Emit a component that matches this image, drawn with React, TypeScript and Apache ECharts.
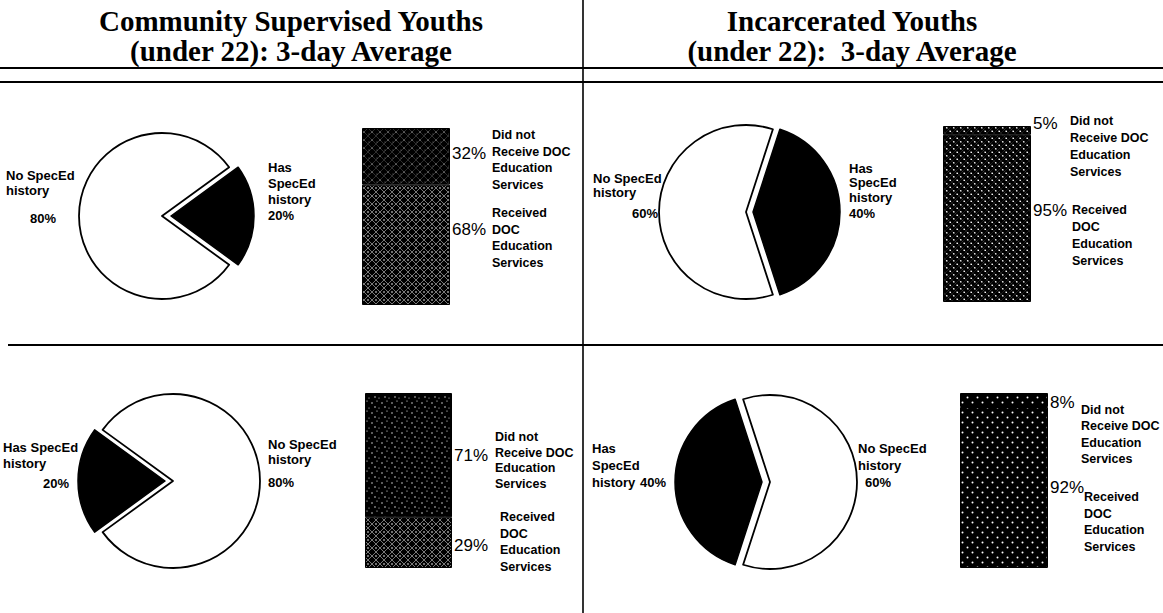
import React, { useEffect, useRef } from 'react';
import * as echarts from 'echarts';

const W = 1163;
const H = 613;

// ---- data ----
const leftTitle = ['Community Supervised Youths', '(under 22): 3-day Average'];
const rightTitle = ['Incarcerated Youths', '(under 22):  3-day Average'];

const pieCategories = ['Has SpecEd history', 'No SpecEd history'];
// [has SpecEd, no SpecEd] for panels TL, TR, BL, BR
const pieHas = [20, 40, 20, 40];
const pieNo = [80, 60, 80, 60];

const barCategories = ['Received DOC Education Services', 'Did not Receive DOC Education Services'];
const barReceived = [68, 95, 29, 92];
const barDidNot = [32, 5, 71, 8];

const didNotText = 'Did not\nReceive DOC\nEducation\nServices';
const receivedText = 'Received\nDOC\nEducation\nServices';

// ---- layout ----
const layout = [
  {
    pie: { center: [162, 216], r: 83, start: 36, off: 9 },
    noLbl: { text: 'No SpecEd\nhistory', x: 6, y: 175, lh: 15 }, noPct: { x: 30, y: 218 },
    hasLbl: { text: 'Has\nSpecEd\nhistory', x: 268, y: 167, lh: 16 }, hasPct: { x: 268, y: 215 },
    bar: { x: 362, y: 128, w: 88, h: 177 }, recOff: -15, didOff: -3,
    didTxt: { x: 492, y: 135, lh: 16.7 }, recTxt: { x: 492, y: 213, lh: 16.5 },
  },
  {
    pie: { center: [746, 212], r: 87, start: 72, off: 7 },
    noLbl: { text: 'No SpecEd\nhistory', x: 593, y: 178, lh: 14.5 }, noPct: { x: 632, y: 213 },
    hasLbl: { text: 'Has\nSpecEd\nhistory', x: 849, y: 168, lh: 14.5 }, hasPct: { x: 849, y: 213 },
    bar: { x: 943, y: 126, w: 88, h: 176 }, recOff: -8, didOff: -7,
    didTxt: { x: 1070, y: 121, lh: 17 }, recTxt: { x: 1072, y: 210, lh: 17 },
  },
  {
    pie: { center: [173, 481], r: 87, start: 216, off: 8 },
    hasLbl: { text: 'Has SpecEd\nhistory', x: 3, y: 447, lh: 16 }, hasPct: { x: 43, y: 483 },
    noLbl: { text: 'No SpecEd\nhistory', x: 268, y: 444, lh: 15 }, noPct: { x: 268, y: 482 },
    bar: { x: 365, y: 393, w: 87, h: 175 }, recOff: 3, didOff: 0,
    didTxt: { x: 495, y: 437, lh: 15.5 }, recTxt: { x: 500, y: 517, lh: 16.7 },
  },
  {
    pie: { center: [770, 482], r: 87, start: 252, off: 8 },
    hasLbl: { text: 'Has\nSpecEd\nhistory', x: 592, y: 448, lh: 17 }, hasPct: { x: 640, y: 482 },
    noLbl: { text: 'No SpecEd\nhistory', x: 858, y: 448, lh: 17 }, noPct: { x: 865, y: 482 },
    bar: { x: 960, y: 393, w: 88, h: 175 }, recOff: 0, didOff: 2,
    didTxt: { x: 1081, y: 410, lh: 16.3 }, recTxt: { x: 1084, y: 497, lh: 16.5 },
  },
];

const SANS = '"Liberation Sans", Arial, Helvetica, sans-serif';
const SERIF = '"Liberation Serif", "Times New Roman", serif';

function makePattern(size: number, draw: (g: CanvasRenderingContext2D, s: number) => void) {
  const c = document.createElement('canvas');
  c.width = size;
  c.height = size;
  const g = c.getContext('2d')!;
  g.fillStyle = '#000';
  g.fillRect(0, 0, size, size);
  g.fillStyle = '#fff';
  g.strokeStyle = '#fff';
  draw(g, size);
  return { image: c.toDataURL(), repeat: 'repeat', imageWidth: size, imageHeight: size } as any;
}

function diag(g: CanvasRenderingContext2D, s: number, lw: number, alpha: number) {
  g.save();
  g.globalAlpha = alpha;
  g.lineWidth = lw;
  for (let k = -1; k <= 1; k++) {
    g.beginPath();
    g.moveTo(-2, -2 + k * s);
    g.lineTo(s + 2, s + 2 + k * s);
    g.stroke();
    g.beginPath();
    g.moveTo(-2, s + 2 + k * s);
    g.lineTo(s + 2, -2 + k * s);
    g.stroke();
  }
  g.restore();
}

function dot(g: CanvasRenderingContext2D, x: number, y: number, r: number, a = 1) {
  g.save();
  g.globalAlpha = a;
  g.beginPath();
  g.arc(x, y, r, 0, Math.PI * 2);
  g.fill();
  g.restore();
}

function buildOption() {
  const crossHatch = makePattern(8, (g, s) => { diag(g, s, 0.8, 0.6); dot(g, 0, 4, 0.8); dot(g, 8, 4, 0.8); });
  const darkHatch = makePattern(8, (g, s) => { diag(g, s, 0.6, 0.3); dot(g, 4, 4, 0.6, 0.8); dot(g, 1, 6, 0.5, 0.6); });
  const diamondDots = makePattern(7, (g, s) => { diag(g, s, 0.5, 0.22); dot(g, 1.75, 1.75, 0.85); dot(g, 5.25, 5.25, 0.85); });
  const speckle = makePattern(10, (g) => { dot(g, 2, 3, 0.7); dot(g, 7, 1, 0.6); dot(g, 5, 7, 0.7); dot(g, 9, 8, 0.5); });
  const dotGrid = makePattern(10, (g) => { dot(g, 2.5, 2.5, 1.0); dot(g, 7.5, 7.5, 1.0); });

  const recFill = [crossHatch, diamondDots, crossHatch, dotGrid];
  const didFill = [darkHatch, diamondDots, speckle, dotGrid];

  const series: any[] = [];
  const grid: any[] = [];
  const xAxis: any[] = [];
  const yAxis: any[] = [];
  const graphic: any[] = [];

  const txt = (text: string, x: number, yCenter: number, lh: number, size = 13, weight = 'bold') => ({
    type: 'text',
    silent: true,
    style: {
      text, x, y: yCenter - lh / 2,
      fontFamily: SANS, fontSize: size, fontWeight: weight,
      lineHeight: lh, fill: '#000', verticalAlign: 'top', align: 'left',
    },
  });

  layout.forEach((p, i) => {
    // pie
    series.push({
      type: 'pie',
      center: p.pie.center,
      radius: p.pie.r,
      startAngle: p.pie.start,
      clockwise: true,
      selectedMode: 'multiple',
      selectedOffset: p.pie.off,
      silent: true,
      avoidLabelOverlap: false,
      label: { show: false },
      labelLine: { show: false },
      emphasis: { disabled: true },
      data: [
        {
          name: pieCategories[0], value: pieHas[i], selected: true,
          itemStyle: { color: '#000', borderColor: '#000', borderWidth: 1.5 },
          select: { itemStyle: { color: '#000', borderColor: '#000', borderWidth: 1.5 } },
        },
        {
          name: pieCategories[1], value: pieNo[i],
          itemStyle: { color: '#fff', borderColor: '#000', borderWidth: 1.8 },
        },
      ],
    });

    // bar
    grid.push({ left: p.bar.x, top: p.bar.y, width: p.bar.w, height: p.bar.h, containLabel: false });
    xAxis.push({ type: 'category', gridIndex: i, data: ['bar'], show: false });
    yAxis.push({ type: 'value', gridIndex: i, min: 0, max: 100, show: false });
    const lbl = (off: number) => ({
      show: true, position: 'right', distance: 2, formatter: '{c}%', offset: [0, off],
      fontFamily: SANS, fontSize: 17, color: '#000',
    });
    series.push({
      type: 'bar', name: barCategories[0], xAxisIndex: i, yAxisIndex: i, stack: 's' + i,
      barWidth: '100%', silent: true,
      data: [{ value: barReceived[i], itemStyle: { color: recFill[i], borderColor: '#000', borderWidth: 1 } }],
      label: lbl(p.recOff),
    });
    series.push({
      type: 'bar', name: barCategories[1], xAxisIndex: i, yAxisIndex: i, stack: 's' + i,
      barWidth: '100%', silent: true,
      data: [{ value: barDidNot[i], itemStyle: { color: didFill[i], borderColor: '#000', borderWidth: 1 } }],
      label: lbl(p.didOff),
    });

    // texts
    graphic.push(txt(p.noLbl.text, p.noLbl.x, p.noLbl.y, p.noLbl.lh));
    graphic.push(txt(`${pieNo[i]}%`, p.noPct.x, p.noPct.y, 15));
    graphic.push(txt(p.hasLbl.text, p.hasLbl.x, p.hasLbl.y, p.hasLbl.lh));
    graphic.push(txt(`${pieHas[i]}%`, p.hasPct.x, p.hasPct.y, 15));
    graphic.push(txt(didNotText, p.didTxt.x, p.didTxt.y, p.didTxt.lh, 12.5));
    graphic.push(txt(receivedText, p.recTxt.x, p.recTxt.y, p.recTxt.lh, 12.5));
  });

  // titles
  const title = (lines: string[], cx: number) => ({
    type: 'text', silent: true,
    style: {
      text: lines.join('\n'), x: cx, y: 6, align: 'center', verticalAlign: 'top',
      fontFamily: SERIF, fontSize: 29, fontWeight: 'bold', lineHeight: 30, fill: '#000',
    },
  });
  graphic.push(title(leftTitle, 291));
  graphic.push(title(rightTitle, 852));

  // rules
  const line = (x1: number, y1: number, x2: number, y2: number, lw: number) => ({
    type: 'line', silent: true,
    shape: { x1, y1, x2, y2 },
    style: { stroke: '#000', lineWidth: lw },
  });
  graphic.push(line(0, 68, W, 68, 2));
  graphic.push(line(0, 82, W, 82, 2));
  graphic.push(line(8, 345, W, 345, 2));
  graphic.push(line(583, 0, 583, H, 1.6));

  return {
    animation: false,
    backgroundColor: '#fff',
    grid, xAxis, yAxis, series, graphic,
  };
}

export default function App() {
  const ref = useRef<HTMLDivElement>(null);
  useEffect(() => {
    const chart = echarts.init(ref.current!, null, { renderer: 'svg', width: W, height: H });
    chart.setOption(buildOption() as any);
    return () => chart.dispose();
  }, []);
  return (
    <div
      ref={ref}
      style={{ position: 'absolute', left: 0, top: 0, width: W, height: H, background: '#fff' }}
    />
  );
}
